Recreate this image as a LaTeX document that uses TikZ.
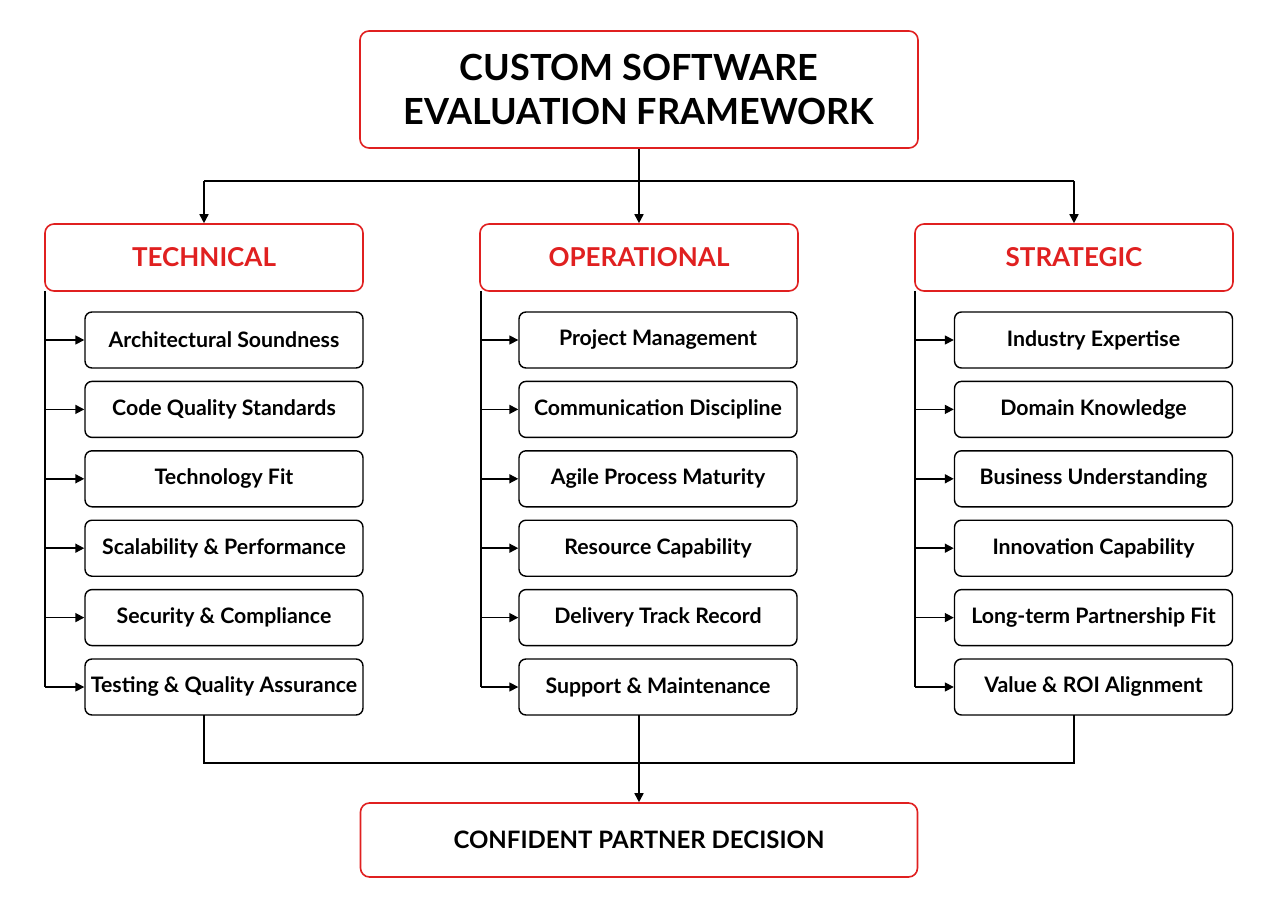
\documentclass[tikz,border=0pt]{standalone}
\usepackage{fontspec}
\setmainfont{Lato}
\usetikzlibrary{arrows.meta}
\definecolor{cred}{HTML}{E02020}
\begin{document}
\begin{tikzpicture}[x=1pt,y=-1pt,
  redbox/.style={draw=cred,line width=1.6pt,rounded corners=9pt,fill=white,inner sep=0pt},
  item/.style={draw=black,line width=1.4pt,rounded corners=7pt,fill=white,minimum width=278pt,minimum height=56pt,inner sep=0pt,font=\fontsize{21.3}{25}\selectfont\bfseries},
  cat/.style={redbox,minimum width=318pt,minimum height=67pt,text=cred,font=\fontsize{26}{30}\selectfont\bfseries},
  ln/.style={line width=1.6pt},
  arr/.style={line width=1.6pt,-{Triangle[length=9pt,width=9pt]}}]
\useasboundingbox (0,0) rectangle (1280,909);
\node[redbox,minimum width=558pt,minimum height=117pt,align=center,font=\fontsize{36}{44}\selectfont\bfseries] (title) at (639,89.5) {CUSTOM SOFTWARE\\EVALUATION FRAMEWORK};
\node[cat] (c1) at (204,257.5) {TECHNICAL};
\node[cat] (c2) at (639,257.5) {OPERATIONAL};
\node[cat] (c3) at (1074,257.5) {STRATEGIC};
\coordinate (t) at (639,181);
\draw[ln] (title.south) -- (t);
\draw[ln] (204,181) -- (1074,181);
\draw[arr] (204,181) -- (c1.north);
\draw[arr] (t) -- (c2.north);
\draw[arr] (1074,181) -- (c3.north);
\foreach \c/\cx/\lx/\items in {1/224/45/{Architectural Soundness,Code Quality Standards,Technology Fit,Scalability \& Performance,Security \& Compliance,Testing \& Quality Assurance},
  2/658/481/{Project Management,Communication Discipline,Agile Process Maturity,Resource Capability,Delivery Track Record,Support \& Maintenance},
  3/1093.5/915/{Industry Expertise,Domain Knowledge,Business Understanding,Innovation Capability,Long-term Partnership Fit,Value \& ROI Alignment}}{
  \foreach \t [count=\i] in \items {
    \pgfmathsetmacro{\yy}{340+69.4*(\i-1)}
    \node[item] (i\c-\i) at (\cx,\yy) {\t};
    \coordinate (l\c-\i) at (\lx,\yy);
    \draw[arr] (l\c-\i) -- (i\c-\i.west);
  }
  \draw[ln] (\lx,291) -- (l\c-6);
}
\node[redbox,minimum width=557pt,minimum height=74pt,font=\fontsize{24}{28}\selectfont\bfseries] (fin) at (639,840) {CONFIDENT PARTNER DECISION};
\coordinate (b) at (639,763);
\draw[ln] (204,715) -- (204,763) -- (1074,763) -- (1074,715);
\draw[ln] (639,715) -- (b);
\draw[arr] (b) -- (fin.north);
\end{tikzpicture}
\end{document}
